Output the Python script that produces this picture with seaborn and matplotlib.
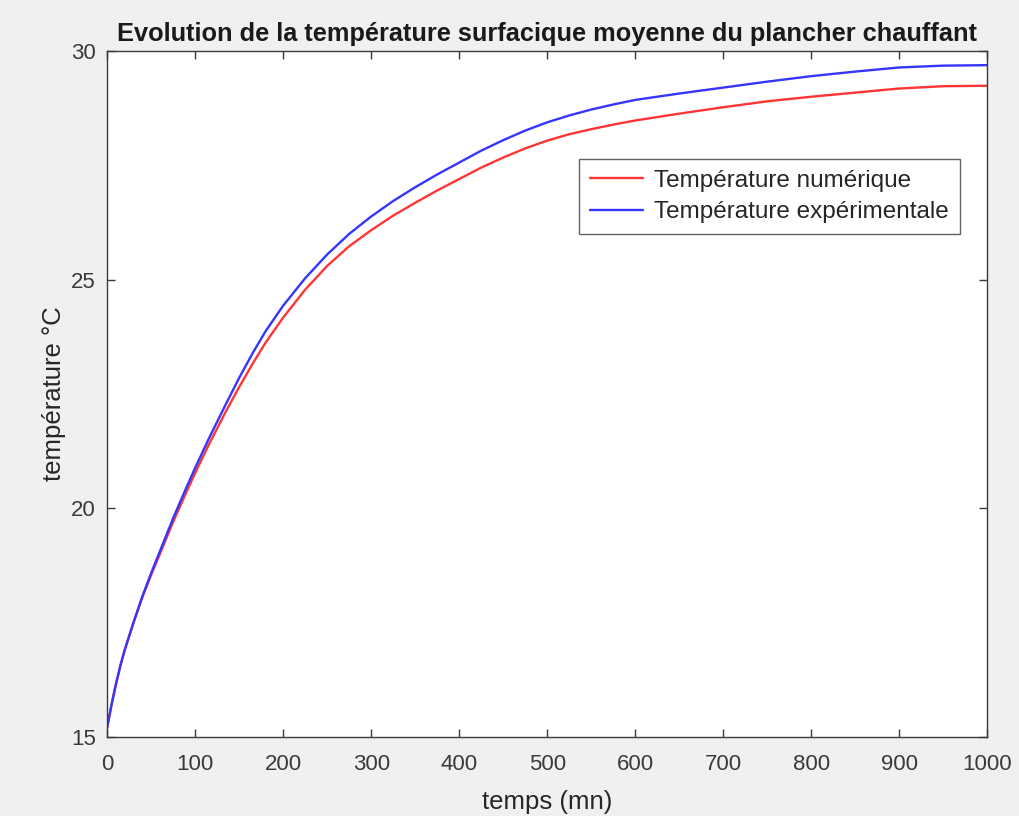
import numpy as np
import pandas as pd
import matplotlib
matplotlib.use("Agg")
import matplotlib.pyplot as plt
import seaborn as sns

# temps (mn)
temps = [0, 5, 10, 15, 20, 30, 40, 50, 60, 75, 90, 100, 115, 135, 150, 165,
         180, 200, 225, 250, 275, 300, 325, 350, 375, 400, 425, 450, 475,
         500, 525, 550, 575, 600, 650, 700, 750, 800, 850, 900, 950, 1000]
# temperature experimentale (bleu)
t_exp = [15.2, 15.7, 16.15, 16.55, 16.9, 17.5, 18.07, 18.58, 19.06, 19.78,
         20.45, 20.88, 21.5, 22.28, 22.85, 23.38, 23.87, 24.43, 25.03, 25.55,
         26.0, 26.38, 26.72, 27.02, 27.3, 27.56, 27.82, 28.05, 28.26, 28.44,
         28.59, 28.72, 28.83, 28.93, 29.07, 29.2, 29.33, 29.45, 29.55, 29.64,
         29.68, 29.69]
# temperature numerique (rouge)
t_num = [15.2, 15.7, 16.15, 16.55, 16.9, 17.5, 18.05, 18.54, 19.0, 19.7,
         20.35, 20.77, 21.37, 22.12, 22.65, 23.15, 23.62, 24.17, 24.78, 25.3,
         25.73, 26.08, 26.4, 26.68, 26.95, 27.2, 27.45, 27.67, 27.87, 28.04,
         28.18, 28.29, 28.39, 28.48, 28.63, 28.77, 28.9, 29.0, 29.09, 29.18,
         29.23, 29.24]

lab_num = "Température numérique"
lab_exp = "Température expérimentale"

df = pd.DataFrame({
    "temps": temps + temps,
    "T": t_num + t_exp,
    "serie": [lab_num] * len(temps) + [lab_exp] * len(temps),
})

sns.set_style("ticks")
plt.rcParams['font.family'] = ['Liberation Sans', 'DejaVu Sans']

fig = plt.figure(figsize=(10.2, 8.16), dpi=100, facecolor="#f0f0f0")
ax = fig.add_axes([0.105, 0.097, 0.863, 0.8405])
ax.set_facecolor("white")

sns.lineplot(data=df, x="temps", y="T", hue="serie",
             palette={lab_num: "#ff3535", lab_exp: "#3535ff"},
             linewidth=1.7, ax=ax)

ax.set_xlim(0, 1000)
ax.set_ylim(15, 30)
ax.set_xticks(range(0, 1001, 100))
ax.set_yticks([15, 20, 25, 30])

edge = "#3a3a3a"
for s in ax.spines.values():
    s.set_visible(True)
    s.set_color(edge)
    s.set_linewidth(1.0)
ax.tick_params(direction="in", length=6, width=1.0, color=edge,
               labelsize=16, labelcolor="#3a3a3a", top=True, right=True)
ax.tick_params(axis="x", pad=12)
ax.tick_params(axis="y", pad=8)

ax.set_xlabel("temps (mn)", fontsize=18.5, color="#262626", labelpad=11)
ax.set_ylabel("température °C", fontsize=18.5, color="#262626", labelpad=4)
ax.set_title("Evolution de la température surfacique moyenne du plancher chauffant",
             fontsize=18.3, fontweight="bold", color="#1a1a1a", pad=7)

leg = ax.legend(loc="upper right", bbox_to_anchor=(0.969, 0.843), fontsize=17.5,
                frameon=True, fancybox=False, borderpad=0.45, handlelength=2.2,
                handletextpad=0.45, labelspacing=0.4, borderaxespad=0)
leg.get_frame().set_edgecolor(edge)
leg.get_frame().set_linewidth(1.0)
for t in leg.get_texts():
    t.set_color("#262626")

fig.savefig("out.png", dpi=100, facecolor=fig.get_facecolor())
